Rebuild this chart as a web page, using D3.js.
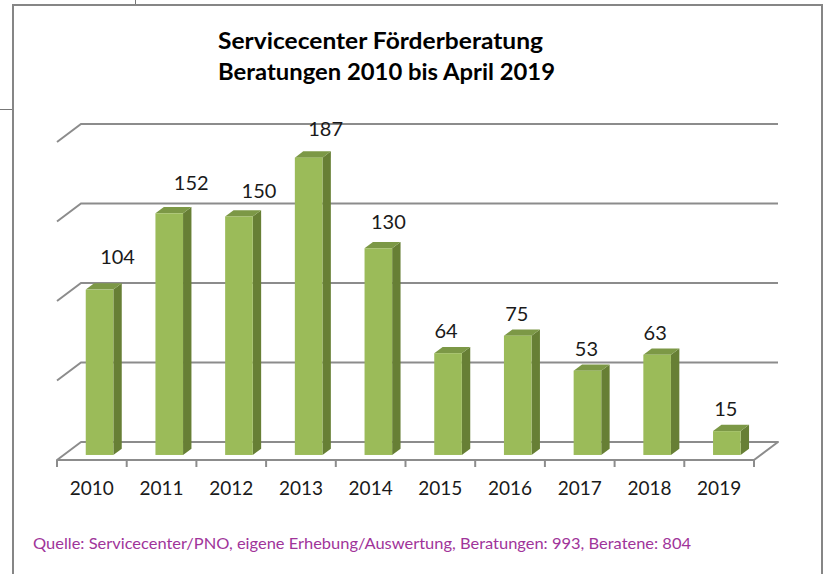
<!DOCTYPE html>
<html>
<head>
<meta charset="utf-8">
<script src="https://cdn.jsdelivr.net/npm/d3@7"></script>
<style>
  body { margin: 0; background: #fff; }
  text { font-family: Lato, "Noto Sans", sans-serif; }
</style>
</head>
<body>
<div id="chart"></div>
<script>
// Data
const years = ["2010", "2011", "2012", "2013", "2014", "2015", "2016", "2017", "2018", "2019"];
const consultations = [104, 152, 150, 187, 130, 64, 75, 53, 63, 15];
const gridValues = [0, 50, 100, 150, 200];
const titleLines = ["Servicecenter Förderberatung", "Beratungen 2010 bis April 2019"];
const sourceNote = "Quelle: Servicecenter/PNO, eigene Erhebung/Auswertung, Beratungen: 993, Beratene: 804";

// label placement tweaks (Excel moved the first labels a bit)
const labelNudgeX = [18, 22, 20, 17, 10, -2, -1, -1, -2, -1];
const labelNudgeY = [11, 8, 3, 7, 4, 0, 0, 0, 0, 0];

const width = 826, height = 574;
const depthX = 24, depthY = 18;   // 3d offset of the back wall
const barZ0 = 0.28, barZ1 = 0.63; // bar depth inside the floor

const svg = d3.select("#chart").append("svg")
  .attr("width", width)
  .attr("height", height);

// page bits outside the chart frame
svg.append("line").attr("x1", 0).attr("x2", 12).attr("y1", 109.5).attr("y2", 109.5)
  .attr("stroke", "#777").attr("stroke-width", 1);
svg.append("line").attr("x1", 135.5).attr("x2", 135.5).attr("y1", 0).attr("y2", 4)
  .attr("stroke", "#777").attr("stroke-width", 1);

// chart frame
svg.append("rect")
  .attr("x", 13).attr("y", 5)
  .attr("width", 809).attr("height", 600)
  .attr("fill", "#fff")
  .attr("stroke", "#868686")
  .attr("stroke-width", 2);

// Scales (front plane)
const x = d3.scaleBand().domain(years).range([57, 754]).padding(0);
const y = d3.scaleLinear().domain([0, 200]).range([460, 142]);

const px = (xv, z) => xv + depthX * z;
const py = (yv, z) => yv - depthY * z;

const gridColor = "#8c8c8c";

// floor
const x0 = x.range()[0], x1 = x.range()[1];
svg.append("path")
  .attr("d", `M${x0},${y(0)} L${px(x0, 1)},${py(y(0), 1)} L${px(x1, 1)},${py(y(0), 1)} L${x1},${y(0)} Z`)
  .attr("fill", "#fff")
  .attr("stroke", gridColor)
  .attr("stroke-width", 2)
  .attr("stroke-linejoin", "round");

// back wall gridlines + side diagonals
const grid = svg.append("g");
grid.selectAll(".gl")
  .data(gridValues.filter(v => v > 0))
  .enter()
  .append("path")
  .attr("d", v => `M${x0},${y(v)} L${px(x0, 1)},${py(y(v), 1)} L${px(x1, 1)},${py(y(v), 1)}`)
  .attr("fill", "none")
  .attr("stroke", gridColor)
  .attr("stroke-width", 2);

// category ticks
svg.selectAll(".tick")
  .data(years.concat([null]))
  .enter()
  .append("line")
  .attr("x1", (d, i) => i < years.length ? x(d) : x1)
  .attr("x2", (d, i) => i < years.length ? x(d) : x1)
  .attr("y1", y(0))
  .attr("y2", y(0) + 7)
  .attr("stroke", gridColor)
  .attr("stroke-width", 2);

// Bars
const bw = x.bandwidth();
const barLeft = d => x(d) + bw * 0.316;
const barW = bw * 0.396;

const bars = svg.selectAll(".bar")
  .data(years.map((yr, i) => ({ yr, v: consultations[i], i })))
  .enter()
  .append("g")
  .attr("class", "bar");

// side face
bars.append("path")
  .attr("d", d => {
    const xr = barLeft(d.yr) + barW;
    return `M${px(xr, barZ0)},${py(y(0), barZ0)} L${px(xr, barZ1)},${py(y(0), barZ1)} ` +
      `L${px(xr, barZ1)},${py(y(d.v), barZ1)} L${px(xr, barZ0)},${py(y(d.v), barZ0)} Z`;
  })
  .attr("fill", "#677f35");

// top face
bars.append("path")
  .attr("d", d => {
    const xl = barLeft(d.yr), xr = xl + barW, yt = y(d.v);
    return `M${px(xl, barZ0)},${py(yt, barZ0)} L${px(xl, barZ1)},${py(yt, barZ1)} ` +
      `L${px(xr, barZ1)},${py(yt, barZ1)} L${px(xr, barZ0)},${py(yt, barZ0)} Z`;
  })
  .attr("fill", "#7c9846");

// front face
bars.append("rect")
  .attr("x", d => px(barLeft(d.yr), barZ0))
  .attr("y", d => py(y(d.v), barZ0))
  .attr("width", barW)
  .attr("height", d => y(0) - y(d.v))
  .attr("fill", "#9bbb59");

// value labels
bars.append("text")
  .attr("x", d => px(barLeft(d.yr), barZ0) + barW / 2 + labelNudgeX[d.i])
  .attr("y", d => py(y(d.v), barZ0) - 22 - labelNudgeY[d.i] + 7)
  .attr("text-anchor", "middle")
  .attr("font-size", 20)
  .attr("fill", "#1a1a1a")
  .text(d => d.v);

// category labels
svg.selectAll(".xlab")
  .data(years)
  .enter()
  .append("text")
  .attr("x", d => x(d) + bw / 2)
  .attr("y", 495)
  .attr("text-anchor", "middle")
  .attr("font-size", 19)
  .attr("fill", "#1a1a1a")
  .text(d => d);

// Title
svg.selectAll(".title")
  .data(titleLines)
  .enter()
  .append("text")
  .attr("x", 218)
  .attr("y", (d, i) => 49 + i * 31)
  .attr("font-size", 22)
  .attr("font-weight", "bold")
  .attr("fill", "#000")
  .attr("textLength", (d, i) => i === 0 ? 325 : 337)
  .attr("lengthAdjust", "spacingAndGlyphs")
  .text(d => d);

// Source
svg.append("text")
  .attr("x", 33)
  .attr("y", 549)
  .attr("font-size", 15)
  .attr("fill", "#a0349a")
  .attr("textLength", 658)
  .attr("lengthAdjust", "spacingAndGlyphs")
  .text(sourceNote);
</script>
</body>
</html>
